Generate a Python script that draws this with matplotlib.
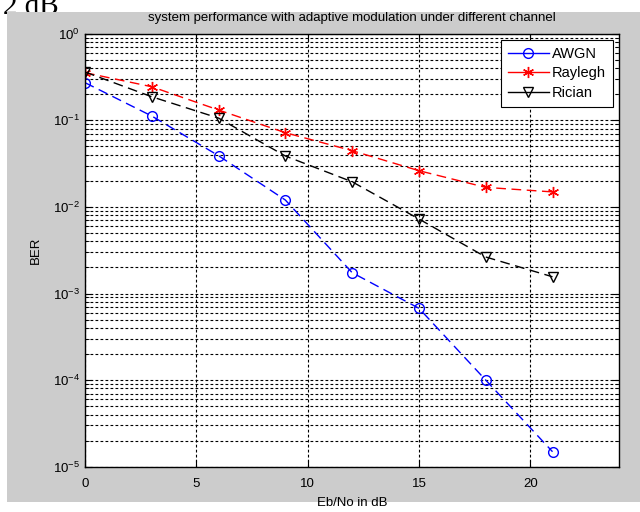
import matplotlib
matplotlib.use('Agg')
import matplotlib.pyplot as plt
from matplotlib.patches import Rectangle
from matplotlib.lines import Line2D
from matplotlib.ticker import LogLocator, NullFormatter, FixedLocator

# Eb/No points (dB) and BER for each channel
ebno = [0, 3, 6, 9, 12, 15, 18, 21]
ber_awgn = [0.272, 0.112, 0.039, 0.0120, 0.00174, 6.75e-4, 1.0e-4, 1.49e-5]
ber_rayleigh = [0.355, 0.244, 0.1315, 0.0719, 0.0446, 0.0262, 0.0168, 0.0149]
ber_rician = [0.361, 0.187, 0.106, 0.0387, 0.0195, 0.00725, 0.00264, 0.00156]
x_ticks = [0, 5, 10, 15, 20]
labels = ['AWGN', 'Raylegh', 'Rician']

plt.rcParams['font.family'] = ['Liberation Sans', 'DejaVu Sans']
plt.rcParams['mathtext.fontset'] = 'custom'
plt.rcParams['mathtext.rm'] = 'Liberation Sans'
plt.rcParams['mathtext.it'] = 'Liberation Sans'

W, H = 640, 512
fig = plt.figure(figsize=(W / 100, H / 100), dpi=100, facecolor='white')

# caption text of the page above the figure, cut off at the image top
fig.text(3 / W, 1 - 14 / H, '2 dB', family='Liberation Serif', fontsize=21,
         va='baseline', ha='left', zorder=-2)
fig.add_artist(Rectangle((7 / W, 1 - 502 / H), 1 - 7 / W, (502 - 12) / H,
                         transform=fig.transFigure, facecolor='#cccccc',
                         edgecolor='none', zorder=-1))

ax = fig.add_axes([85 / W, 1 - 466.7 / H, (619.3 - 85) / W, (466.7 - 33.7) / H])
ax.set_facecolor('white')

styles = [
    dict(color='#0000ff', marker='o', markersize=7, markerfacecolor='none',
         markeredgewidth=1),
    dict(color='#ff0000', marker=(6, 2, 0), markersize=8, markeredgewidth=1),
    dict(color='black', marker='v', markersize=7, markerfacecolor='none',
         markeredgewidth=1),
]
for ber, st, lab in zip([ber_awgn, ber_rayleigh, ber_rician], styles, labels):
    ax.semilogy(ebno, ber, linestyle=(0, (7, 4)), linewidth=1, label=lab, **st)

ax.set_xlim(0, 24)
ax.set_ylim(1e-5, 1)
ax.xaxis.set_major_locator(FixedLocator(x_ticks))
ax.yaxis.set_major_locator(LogLocator(base=10, numticks=10))
ax.yaxis.set_minor_locator(LogLocator(base=10, subs=range(2, 10), numticks=20))
ax.yaxis.set_minor_formatter(NullFormatter())

grid_style = dict(color='black', linestyle=(0, (2.5, 2)), linewidth=0.8)
ax.grid(True, which='major', axis='both', **grid_style)
ax.grid(True, which='minor', axis='y', **grid_style)

ax.tick_params(which='both', direction='in', top=True, right=True, labelsize=9.5,
               colors='black')
ax.tick_params(which='major', length=5)
ax.tick_params(which='minor', length=3)
ax.tick_params(axis='x', pad=8)
for s in ax.spines.values():
    s.set_linewidth(1)
    s.set_color('black')

ax.set_title('system performance with adaptive modulation under different channel',
             fontsize=9.5, pad=9)
ax.set_xlabel('Eb/No in dB', fontsize=9.5, labelpad=5)
ax.set_ylabel('BER', fontsize=9.5, labelpad=8)

# legend keys drawn with solid lines, like the original
handles = [Line2D([], [], linestyle='-', linewidth=1, **st) for st in styles]
leg = ax.legend(handles, labels, loc='upper right', fontsize=10.5, fancybox=False,
                framealpha=1, edgecolor='black', handlelength=2.75,
                handletextpad=0.25, labelspacing=0.38, borderaxespad=0.4,
                borderpad=0.5)
leg.get_frame().set_linewidth(0.8)

fig.savefig('out.png', dpi=100, facecolor='white')
